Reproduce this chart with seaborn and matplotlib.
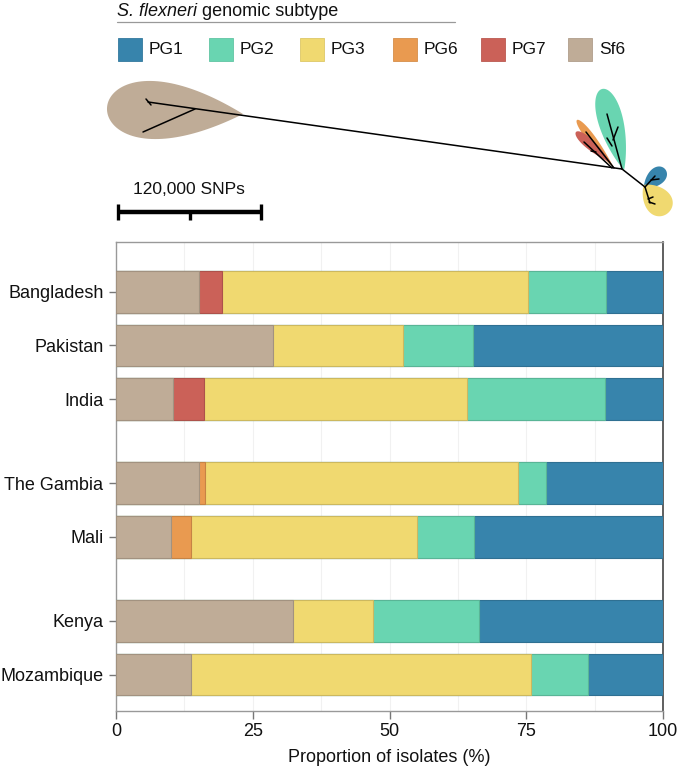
import numpy as np
import pandas as pd
import matplotlib
matplotlib.use("Agg")
import matplotlib.pyplot as plt
import matplotlib.colors as mcolors
from matplotlib.patches import Polygon, Rectangle
import seaborn as sns

# ---------------- data ----------------
countries = ["Bangladesh", "Pakistan", "India", "The Gambia", "Mali", "Kenya", "Mozambique"]
groups = [["Bangladesh", "Pakistan", "India"], ["The Gambia", "Mali"], ["Kenya", "Mozambique"]]
subtypes_stack = ["Sf6", "PG7", "PG6", "PG3", "PG2", "PG1"]   # left -> right
legend_order = ["PG1", "PG2", "PG3", "PG6", "PG7", "Sf6"]
sf6 = [15.2, 28.7, 10.5, 15.2, 10.1, 32.4, 13.7]
pg7 = [4.1, 0.0, 5.5, 0.0, 0.0, 0.0, 0.0]
pg6 = [0.0, 0.0, 0.0, 1.1, 3.6, 0.0, 0.0]
pg3 = [56.0, 23.7, 48.2, 57.2, 41.4, 14.5, 62.1]
pg2 = [14.3, 12.9, 25.2, 5.1, 10.4, 19.4, 10.4]
pg1 = [10.4, 34.7, 10.6, 21.4, 34.5, 33.7, 13.8]
xticks = [0, 25, 50, 75, 100]
scale_label = "120,000 SNPs"

colors = {"PG1": "#3784AC", "PG2": "#69D5B1", "PG3": "#F0D970",
          "PG6": "#E99A50", "PG7": "#CB6158", "Sf6": "#BFAC97"}

# ---------------- style ----------------
sns.set_theme(style="white")
plt.rcParams["font.family"] = ["Liberation Sans", "DejaVu Sans"]

W, H = 678, 771
fig = plt.figure(figsize=(W / 100, H / 100), dpi=100)

# positions with group gaps
GAP = 0.57
pos = []
p = 0.0
for gi, g in enumerate(groups):
    for c in g:
        pos.append(p)
        p += 1.0
    p += GAP
pos_map = dict(zip([c for g in groups for c in g], pos))

# ---------------- bar chart ----------------
ax = fig.add_axes([116 / W, 1 - 711 / H, 547 / W, 469 / H])
vals = {"Sf6": sf6, "PG7": pg7, "PG6": pg6, "PG3": pg3, "PG2": pg2, "PG1": pg1}
rows = []
cum = np.zeros(len(countries))
for s in subtypes_stack:
    v = np.array(vals[s])
    cum = cum + v
    for i, c in enumerate(countries):
        if v[i] > 0:
            rows.append({"country": c, "pos": pos_map[c], "subtype": s, "end": cum[i]})
df = pd.DataFrame(rows)
hue_order = subtypes_stack[::-1]  # draw widest cumulative first
sns.barplot(data=df, x="end", y="pos", hue="subtype", hue_order=hue_order,
            palette=colors, orient="h", native_scale=True, dodge=False,
            width=0.78, saturation=1, errorbar=None, legend=False,
            linewidth=0.8, ax=ax, zorder=3)
for patch in ax.patches:
    fc = np.array(mcolors.to_rgb(patch.get_facecolor()))
    patch.set_edgecolor(tuple(fc * 0.85))
    patch.set_linewidth(0.8)

for gx in np.arange(12.5, 100, 12.5):
    ax.axvline(gx, color="#f1f1f1", lw=0.8, zorder=0)

ax.set_xlim(0, 100)
ax.set_ylim(7.82, -0.93)
ax.set_yticks([pos_map[c] for c in countries])
ax.set_yticklabels(countries, fontsize=13, color="#111111")
ax.set_xticks(xticks)
ax.set_xticklabels([str(t) for t in xticks], fontsize=13, color="#111111")
ax.set_xlabel("Proportion of isolates (%)", fontsize=13, color="#111111", labelpad=6)
ax.set_ylabel("")
ax.tick_params(axis="y", length=5, width=1, color="#777777", pad=4, left=True)
ax.tick_params(axis="x", length=6, width=1, color="#777777", pad=3, bottom=True)
for side in ["left", "top", "bottom"]:
    ax.spines[side].set_color("#999999")
    ax.spines[side].set_linewidth(1.0)
ax.spines["right"].set_color("#444444")
ax.spines["right"].set_linewidth(1.2)

# ---------------- tree + legend (pixel coordinates overlay) ----------------
ov = fig.add_axes([0, 0, 1, 1], zorder=-1)
ov.set_xlim(0, W)
ov.set_ylim(H, 0)
ov.axis("off")


def leaf(round_end, tip, half_width, m=1.0, n=120):
    """Teardrop outline: rounded at round_end, pointed at tip."""
    rx, ry = round_end
    tx, ty = tip
    t = np.linspace(0, 2 * np.pi, n)
    u = np.cos(t)                                   # +1 tip, -1 round end
    v = np.sin(t) * np.abs(np.sin(t / 2)) ** m
    vmax = np.max(np.abs(v))
    v = v / vmax * half_width
    mx, my = (rx + tx) / 2, (ry + ty) / 2
    L = np.hypot(tx - rx, ty - ry) / 2
    ex, ey = (tx - rx) / (2 * L), (ty - ry) / (2 * L)
    px, py = -ey, ex
    return np.column_stack([mx + u * L * ex + v * px, my + u * L * ey + v * py])


blobs = [("Sf6", (107, 108), (243, 114), 29, 1.0),
         ("PG2", (602, 89), (624, 170), 12.5, 0.8),
         ("PG6", (577, 120), (614, 168), 4.2, 1.0),
         ("PG7", (576, 132), (611, 163), 5.0, 1.0),
         ("PG1", (665, 169), (644, 188), 8.5, 0.7),
         ("PG3", (668, 213), (644, 185), 13.5, 0.6)]
for name, re_, tp, hw, m in blobs:
    ov.add_patch(Polygon(leaf(re_, tp, hw, m), closed=True, facecolor=colors[name],
                         edgecolor="none", zorder=1))

segs = [((148, 102), (622, 169)), ((195, 109), (143, 132)), ((146, 99), (151, 105)),
        ((622, 169), (645, 187)),
        ((622, 169), (607, 114)), ((613, 140), (618, 127)), ((612, 146), (607, 138)),
        ((614, 168), (586, 132)), ((612, 168), (584, 142)), ((596, 152), (591, 151)),
        ((645, 187), (655, 176)), ((651, 180), (659, 179)),
        ((645, 187), (650, 203)), ((648, 199), (653, 197)), ((649, 202), (655, 204))]
for (x0, y0), (x1, y1) in segs:
    ov.plot([x0, x1], [y0, y1], color="black", lw=1.1, zorder=2, solid_capstyle="round")

# scale bar
ov.plot([117, 262], [212, 212], color="black", lw=3.2, zorder=2, solid_capstyle="butt")
for xx in (118, 261):
    ov.plot([xx, xx], [204, 220], color="black", lw=2.4, zorder=2, solid_capstyle="butt")
ov.plot([190, 190], [212, 220], color="black", lw=2.4, zorder=2, solid_capstyle="butt")
ov.text(189, 190, scale_label, fontsize=12.5, ha="center", va="center", color="#111111")

# legend title
t1 = ov.text(117, 16, "S. flexneri", fontsize=13, style="italic", ha="left",
             va="baseline", color="#111111")
ov.annotate(" genomic subtype", xy=(1, 0), xycoords=t1, fontsize=13, ha="left",
            va="bottom", color="#111111")
ov.plot([117, 455], [22, 22], color="#999999", lw=0.9)

legend_x = [118, 209, 300, 393, 481, 568]
for name, lx in zip(legend_order, legend_x):
    ov.add_patch(Rectangle((lx, 38), 24, 23, facecolor=colors[name],
                           edgecolor=tuple(np.array(mcolors.to_rgb(colors[name])) * 0.92),
                           lw=0.6))
    ov.text(lx + 31, 50, name, fontsize=12.5, ha="left", va="center", color="#111111")

fig.savefig("out.png", dpi=100)
